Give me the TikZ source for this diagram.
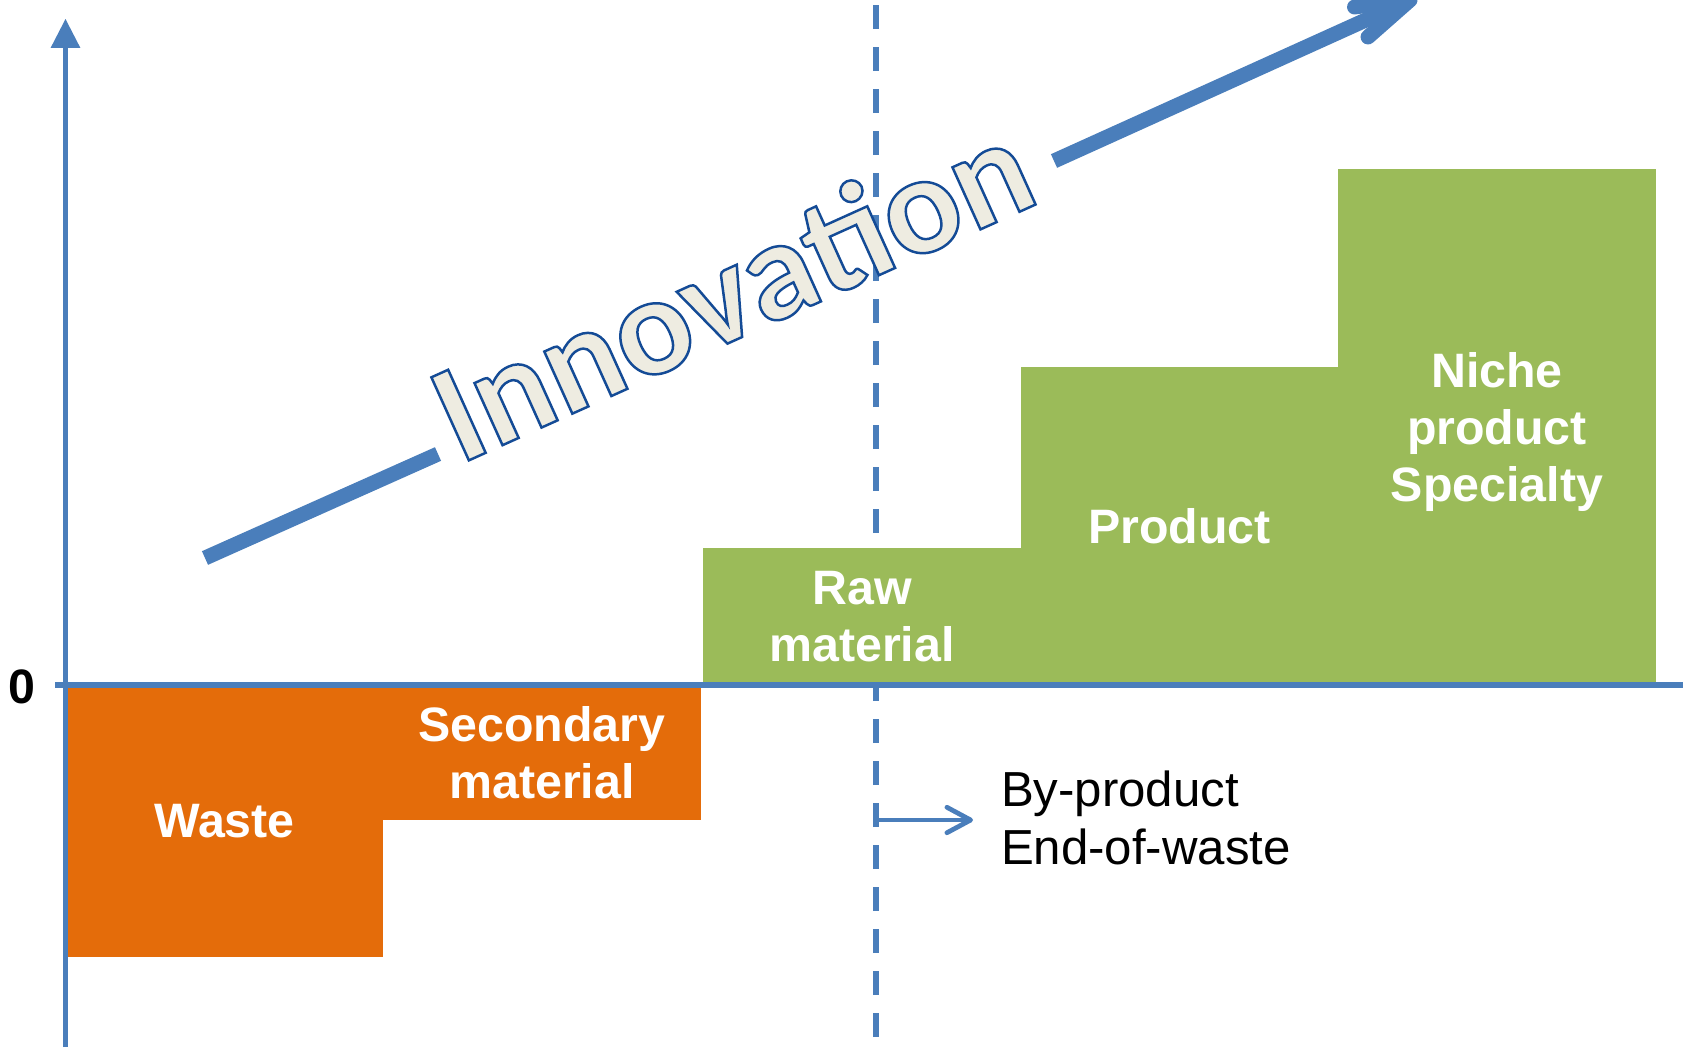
\documentclass[tikz,border=0pt]{standalone}
\usepackage{fontspec}
\usepackage{graphicx}
\setmainfont{Liberation Sans}
\newfontfamily\calib{Carlito}
\usetikzlibrary{arrows.meta}
\definecolor{axisblue}{RGB}{74,126,187}
\definecolor{leafgreen}{RGB}{155,187,89}
\definecolor{wasteorange}{RGB}{228,108,10}
\definecolor{innofill}{RGB}{238,236,225}
\newcommand\outlinedtext[1]{\special{pdf:literal direct 2 Tr 1.4 w 0.078 0.294 0.588 RG}#1\special{pdf:literal direct 0 Tr}}
\begin{document}
\begin{tikzpicture}[x=0.02cm, y=-0.02cm,
  axisline/.style={draw=axisblue, line width=3.3pt},
  dashline/.style={draw=axisblue, line width=3.4pt, dash pattern=on 13.66pt off 10.24pt},
  innov/.style={draw=axisblue, line width=8.5pt},
  byarrow/.style={draw=axisblue, line width=2.7pt, -{Straight Barb[round, length=13.5pt, width=14.5pt]}},
  bar/.style={rectangle, inner sep=0pt, outer sep=0pt, text=white, align=center, text depth=0pt,
    font=\bfseries\fontsize{27.5}{32.5}\selectfont},
  orangebar/.style={bar, fill=wasteorange},
  greenbar/.style={bar, fill=leafgreen},
  plaintext/.style={inner sep=0pt, outer sep=0pt, font=\fontsize{28}{33}\selectfont, align=left},
  zerolabel/.style={inner sep=0pt, outer sep=0pt, text depth=0pt, font=\bfseries\fontsize{27.5}{33}\selectfont},
  innotext/.style={inner sep=0pt, outer sep=0pt, text=innofill, font=\calib\bfseries\fontsize{80}{86}\selectfont}
]
\useasboundingbox (0,0) rectangle (1692,1052);

% dashed divider (behind everything)
\coordinate (dtop) at (876,0);
\coordinate (dbot) at (876,1037);
\draw[dashline] (dbot) -- (dtop);

% bars
\node[orangebar, minimum width=6.34cm, minimum height=5.44cm] (waste) at (224.5,821) {Waste};
\node[orangebar, minimum width=6.36cm, minimum height=2.7cm] (secondary) at (542,752.5) {Secondary\\material};
\node[greenbar, minimum width=6.36cm, minimum height=2.74cm] (raw) at (862,616.5) {Raw\\material};
\node[greenbar, minimum width=6.34cm, minimum height=6.36cm] (product) at (1179.5,526) {Product};
\node[greenbar, minimum width=6.36cm, minimum height=10.32cm] (niche) at (1497,427) {Niche\\product\\Specialty};

% axes
\coordinate (vbot) at (65.5,1047);
\coordinate (vtop) at (65.5,19);
\draw[axisline, -{Triangle[length=16.5pt, width=17pt, line width=0pt]}] (vbot) -- (vtop);
\coordinate (hleft) at (55,685);
\coordinate (hright) at (1683,685);
\draw[axisline] (hleft) -- (hright);
\node[zerolabel, anchor=east] (zero) at (35,687) {0};

% innovation arrow
\coordinate (ia1) at (205,558);
\coordinate (ia2) at (438,454);
\draw[innov] (ia1) -- (ia2);
\coordinate (is2) at (1054,161);
\coordinate (itip) at (1410,0);
\coordinate (ib1) at (1368,37);
\coordinate (ib2) at (1354.5,7);
\draw[innov] (is2) -- (itip);
\draw[innov, line cap=round, line join=round] (ib1) -- (itip) -- (ib2);
\node[innotext, rotate=24.3, anchor=base] (innovation) at (751,333)
  {\scalebox{1.015}[1]{\outlinedtext{Innovation}}};

% by-product
\coordinate (bpstart) at (876,820);
\coordinate (bpend) at (973,820);
\draw[byarrow] (bpstart) -- (bpend);
\node[plaintext, anchor=north west] (byproduct) at (1001,771) {By-product\\End-of-waste};
\end{tikzpicture}
\end{document}
